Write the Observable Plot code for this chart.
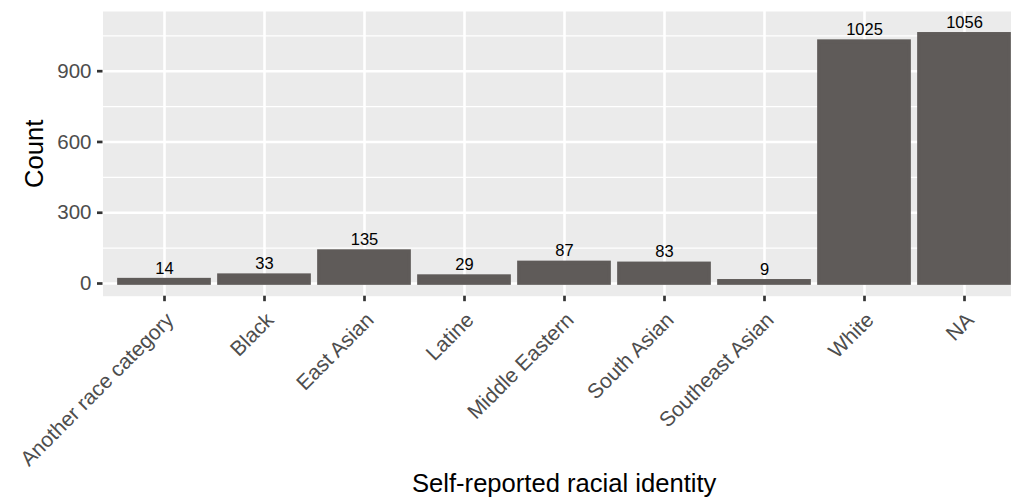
<!DOCTYPE html>
<html>
<head>
<meta charset="utf-8">
<script src="https://cdn.jsdelivr.net/npm/d3@7"></script>
<script src="https://cdn.jsdelivr.net/npm/@observablehq/plot@0.6"></script>
<style>
  html, body { margin: 0; padding: 0; background: white; }
  #chart { width: 1011px; height: 499px; overflow: hidden; }
  #chart svg { max-width: none; }
</style>
</head>
<body>
<div id="chart"></div>
<script>
const categories = ["Another race category", "Black", "East Asian", "Latine", "Middle Eastern", "South Asian", "Southeast Asian", "White", "NA"];
const counts = [14, 33, 135, 29, 87, 83, 9, 1025, 1056];
const majorTicks = [0, 300, 600, 900];
const minorTicks = [150, 450, 750, 1050];
const xTitle = "Self-reported racial identity";
const yTitle = "Count";

const data = categories.map((c, i) => ({race: c, n: counts[i]}));

const barColor = "#5F5B59";
const font = "'Liberation Sans', Arial, Helvetica, sans-serif";

const chart = Plot.plot({
  width: 1011,
  height: 499,
  marginLeft: 102.5,
  marginRight: 0,
  marginTop: 11,
  marginBottom: 203.3,
  style: {fontFamily: font, background: "white"},
  x: {domain: categories, range: [102.5, 1025], paddingInner: 0.1, paddingOuter: 0.15, axis: null},
  y: {domain: [-53.8, 1153], axis: null},
  marks: [
    Plot.frame({fill: "#EBEBEB", stroke: null}),
    Plot.ruleY(minorTicks, {stroke: "white", strokeWidth: 1.3}),
    Plot.ruleY(majorTicks, {stroke: "white", strokeWidth: 2.6}),
    Plot.ruleX(categories, {x: d => d, stroke: "white", strokeWidth: 2.6}),
    Plot.barY(data, {x: "race", y: "n", fill: barColor, stroke: barColor, strokeWidth: 3.7}),
    Plot.text(data, {x: "race", y: "n", text: d => String(d.n), lineAnchor: "bottom", dy: -6.5, fontSize: 16.5, fill: "black"}),
    Plot.axisY({ticks: majorTicks, tickSize: 5.5, tickPadding: 6, fontSize: 20.5, fill: "#4D4D4D", stroke: "#333333", strokeWidth: 2.7, label: null}),
    Plot.axisX({tickSize: 5.5, tickFormat: () => "", stroke: "#333333", strokeWidth: 2.7, label: null}),
    Plot.text(categories, {x: d => d, text: d => d, frameAnchor: "bottom", rotate: -45, textAnchor: "end", lineAnchor: "top", dx: 0, dy: 14.5, fontSize: 21, fill: "#4D4D4D"}),
    Plot.text([yTitle], {text: d => d, frameAnchor: "left", dx: -68.5, rotate: -90, textAnchor: "middle", lineAnchor: "middle", fontSize: 25.6, fill: "black"}),
    Plot.text([xTitle], {text: d => d, frameAnchor: "bottom", dy: 196, lineAnchor: "bottom", textAnchor: "middle", fontSize: 25.6, fill: "black", dx: 563.7 - (102.5 + 1011) / 2})
  ]
});
document.getElementById("chart").appendChild(chart);
</script>
</body>
</html>
